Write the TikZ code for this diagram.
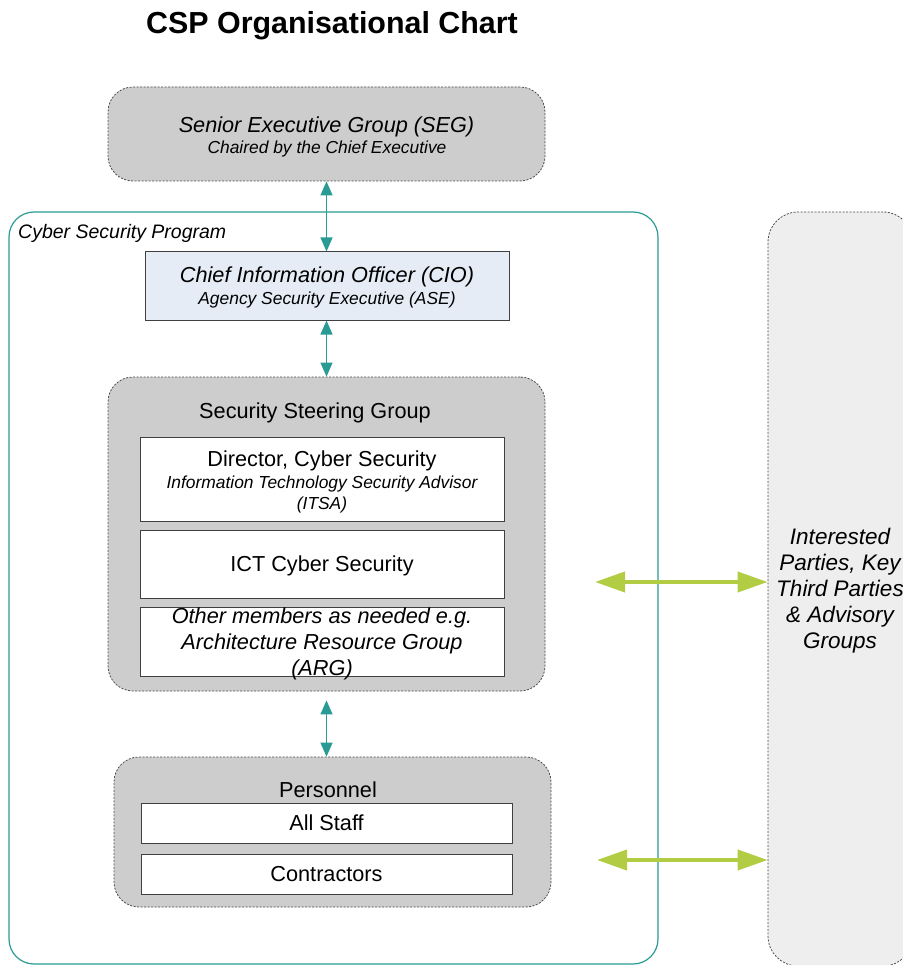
\documentclass[tikz,border=0pt]{standalone}
\usepackage{fontspec}
\setmainfont{Liberation Sans}
\usetikzlibrary{arrows.meta}
\definecolor{cspteal}{RGB}{42,155,148}
\definecolor{cspgreen}{RGB}{178,204,68}
\definecolor{cspgray}{RGB}{205,205,205}
\definecolor{csplight}{RGB}{238,238,238}
\definecolor{cspblue}{RGB}{229,236,246}
\newcommand\csptitle{\fontsize{30.4}{36}\selectfont}
\newcommand\cspbig{\fontsize{21.7}{26}\selectfont}
\newcommand\cspsmall{\fontsize{17.4}{21}\selectfont}
\newcommand\cspmid{\fontsize{19.5}{23}\selectfont}
\tikzset{
  grp/.style={draw=black!70, dash pattern=on 2pt off 1.5pt, line width=0.8pt,
    fill=cspgray, rounded corners=25pt, inner sep=0pt},
  wbox/.style={draw=black!75, line width=1pt, fill=white, inner sep=0pt,
    minimum width=364pt, font=\cspbig, text depth=0pt},
  txt/.style={inner sep=0pt, align=center, yshift=-2.5pt},
  tarrow/.style={draw=cspteal, line width=1.3pt,
    {Triangle[length=14pt,width=12pt]}-{Triangle[length=14pt,width=12pt]}},
  garrow/.style={draw=cspgreen, line width=4pt,
    {Triangle[length=30pt,width=20pt]}-{Triangle[length=30pt,width=20pt]}}
}
\begin{document}
\begin{tikzpicture}[x=1pt,y=-1pt]
\useasboundingbox (0,0) rectangle (902,965);

% title
\node[txt, font=\csptitle\bfseries] (title) at (332,23) {CSP Organisational Chart};

% Cyber Security Program container
\node[draw=cspteal, line width=1.2pt, rounded corners=25pt, inner sep=0pt,
      minimum width=649pt, minimum height=752pt] (csp) at (333.5,588) {};
\node[txt, font=\cspmid\itshape, anchor=west] (csplbl) at (18,231) {Cyber Security Program};

% external parties
\node[draw=black!70, dash pattern=on 2pt off 1.5pt, line width=0.8pt, fill=csplight,
      rounded corners=30pt, inner sep=0pt, minimum width=145pt, minimum height=754pt] (ext) at (840.5,589) {};
\node[txt, font=\fontsize{22.5}{26}\selectfont\itshape] (exttxt) at (840,588)
  {Interested\\Parties, Key\\Third Parties\\\& Advisory\\Groups};

% SEG
\node[grp, minimum width=437pt, minimum height=94pt] (seg) at (326.5,134) {};
\node[txt, font=\cspbig\itshape] (segA) at (326.5,124) {Senior Executive Group (SEG)};
\node[txt, font=\cspsmall\itshape] (segB) at (327,147) {Chaired by the Chief Executive};

% CIO
\node[draw=black!75, line width=1pt, fill=cspblue, inner sep=0pt,
      minimum width=364pt, minimum height=68pt] (cio) at (327,286) {};
\node[txt, font=\cspbig\itshape] (cioA) at (327,274) {Chief Information Officer (CIO)};
\node[txt, font=\cspsmall\itshape] (cioB) at (327,298) {Agency Security Executive (ASE)};

% Security Steering Group
\node[grp, minimum width=437pt, minimum height=314pt] (ssg) at (326.5,534) {};
\node[txt, font=\cspbig] (ssgA) at (315,410) {Security Steering Group};
\node[wbox, minimum height=84pt] (dir) at (322,479) {};
\node[txt, font=\cspbig] (dirA) at (322,458) {Director, Cyber Security};
\node[txt, font=\cspsmall\itshape] (dirB) at (322,481) {Information Technology Security Advisor};
\node[txt, font=\cspsmall\itshape] (dirC) at (322,502) {(ITSA)};
\node[wbox, minimum height=68pt] (ict) at (322,564) {ICT Cyber Security};
\node[wbox, minimum height=69pt] (oth) at (322,641.5) {};
\node[txt, font=\cspbig\itshape] (othA) at (322,615) {Other members as needed e.g.};
\node[txt, font=\cspbig\itshape] (othB) at (322,641) {Architecture Resource Group};
\node[txt, font=\cspbig\itshape] (othC) at (322,667) {(ARG)};

% Personnel
\node[grp, minimum width=437pt, minimum height=150pt] (pers) at (332.5,832) {};
\node[txt, font=\cspbig] (persA) at (328,787) {Personnel};
\node[wbox, minimum width=371pt, minimum height=40pt] (staff) at (326.5,823) {All Staff};
\node[wbox, minimum width=371pt, minimum height=40pt] (contr) at (326.5,874) {Contractors};

% teal connectors
\draw[tarrow] (seg.south) -- (seg.south |- cio.north);
\draw[tarrow] (seg.south |- cio.south) -- (seg.south |- ssg.north);
\draw[tarrow, shorten <=9pt] (ssg.south) -- (ssg.south |- pers.north);

% green connectors
\coordinate (g1) at (595,582);
\coordinate (g2) at (597,860);
\draw[garrow] (g1) -- (g1 -| ext.west);
\draw[garrow] (g2) -- (g2 -| ext.west);
\end{tikzpicture}
\end{document}
